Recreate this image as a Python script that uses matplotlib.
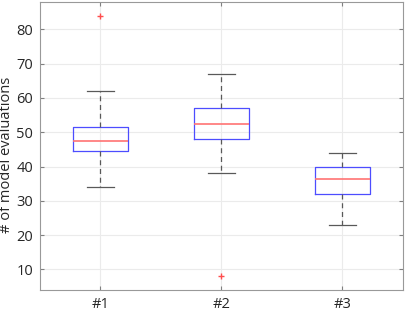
import matplotlib
matplotlib.use("Agg")
import matplotlib.pyplot as plt

labels = ["#1", "#2", "#3"]
q1 = [44.5, 48.0, 32.0]
medians = [47.5, 52.5, 36.5]
q3 = [51.5, 57.0, 40.0]
whislo = [34.0, 38.0, 23.0]
whishi = [62.0, 67.0, 44.0]
fliers = [[84.0], [8.0], []]

plt.rcParams['font.family'] = ['Open Sans', 'DejaVu Sans']

stats = []
for i in range(len(labels)):
    stats.append(dict(label=labels[i], q1=q1[i], med=medians[i], q3=q3[i],
                      whislo=whislo[i], whishi=whishi[i], fliers=fliers[i]))

fig = plt.figure(figsize=(4.07, 3.11), dpi=100)
ax = fig.add_axes([0.0983, 0.0675, 0.8917, 0.9261])

ax.bxp(stats, positions=[1, 2, 3], widths=0.45, showfliers=True,
       boxprops=dict(color=(0.3, 0.3, 1.0), linewidth=0.9),
       medianprops=dict(color=(1.0, 0.45, 0.45), linewidth=1.2),
       whiskerprops=dict(color=(0.35, 0.35, 0.35), linestyle=(0, (4, 3)), linewidth=0.9),
       capprops=dict(color=(0.35, 0.35, 0.35), linewidth=0.9),
       flierprops=dict(marker='+', markeredgecolor=(1.0, 0.3, 0.3), markersize=5, linestyle='none'))

ax.set_xlim(0.5, 3.5)
ax.set_ylim(4, 88)
ax.set_yticks([10, 20, 30, 40, 50, 60, 70, 80])
ax.set_xticks([1, 2, 3])
ax.set_xticklabels(labels)
ax.grid(True, color=(0.92, 0.92, 0.92), linewidth=0.8)
ax.set_axisbelow(True)
ax.tick_params(direction='in', length=3, top=True, right=True, labelsize=10.5,
               colors=(0.5, 0.5, 0.5), labelcolor=(0.15, 0.15, 0.15), pad=5)
for s in ax.spines.values():
    s.set_color((0.6, 0.6, 0.6))
    s.set_linewidth(0.8)
ax.set_ylabel("# of model evaluations", fontsize=10.5, color=(0.15, 0.15, 0.15))
ax.yaxis.set_label_coords(-0.072, 0.47)

fig.savefig("out.png", dpi=100)
